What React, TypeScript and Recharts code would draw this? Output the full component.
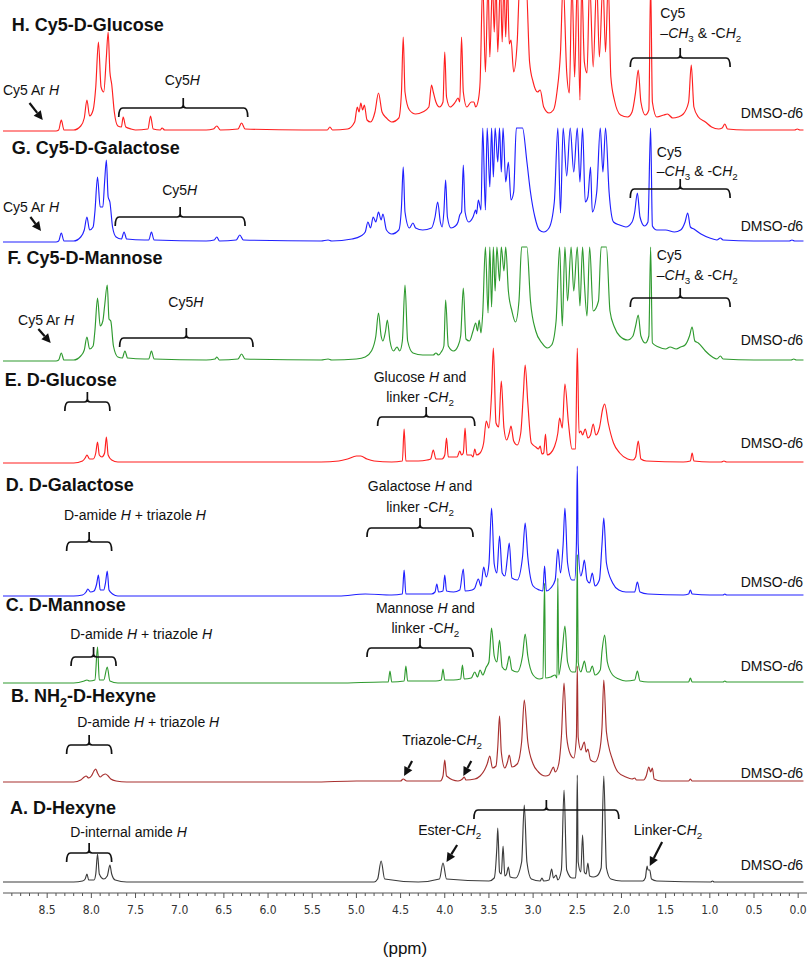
import React from "react";
import { LineChart, Line, XAxis, YAxis, ReferenceLine, ReferenceDot } from "recharts";

const SANS = "'Liberation Sans', Arial, Helvetica, sans-serif";
const RED = "#ff1f1f";
const BLUE = "#2020ff";
const GREEN = "#2f9a2f";
const MAROON = "#a8302f";
const GREY = "#3c3c3c";

// [ppm, intensity above the trace's own baseline]; H peaks at 150 run off the top of the frame
const H_TRACE: [number, number][] = [
  [9.0, 1], [8.4, 1], [8.37, 2], [8.34, 12], [8.31, 2], [8.2, 2], [8.12, 6], [8.08, 14], [8.05, 32], [8.02, 16],
  [7.98, 22], [7.95, 45], [7.92, 90], [7.89, 45], [7.86, 40], [7.83, 75], [7.81, 100], [7.79, 60], [7.77, 48],
  [7.74, 20], [7.7, 6], [7.66, 5], [7.64, 15], [7.61, 5], [7.55, 3], [7.5, 2], [7.36, 3], [7.33, 16], [7.3, 3],
  [7.22, 2], [7.2, 4], [7.17, 2], [6.7, 2], [6.62, 3], [6.58, 6], [6.54, 2], [6.34, 3], [6.3, 9], [6.26, 3],
  [5.6, 2], [5.33, 2], [5.3, 5], [5.27, 2], [5.1, 3], [5.02, 10], [4.99, 25], [4.97, 20], [4.95, 29], [4.93, 22],
  [4.91, 27], [4.88, 12], [4.84, 10], [4.79, 20], [4.75, 39], [4.71, 20], [4.66, 14], [4.6, 10], [4.52, 14],
  [4.49, 40], [4.47, 95], [4.45, 40], [4.4, 22], [4.33, 18], [4.25, 20], [4.18, 25], [4.15, 47], [4.13, 40],
  [4.1, 30], [4.06, 25], [4.02, 30], [4.0, 80], [3.98, 35], [3.94, 25], [3.88, 30], [3.85, 34], [3.83, 30],
  [3.81, 95], [3.79, 40], [3.75, 25], [3.7, 30], [3.67, 30], [3.65, 25], [3.62, 32], [3.6, 50], [3.57, 150],
  [3.54, 60], [3.51, 150], [3.49, 75], [3.46, 150], [3.44, 100], [3.42, 150], [3.4, 80], [3.37, 150], [3.35, 90],
  [3.33, 150], [3.31, 95], [3.29, 150], [3.27, 88], [3.25, 92], [3.22, 60], [3.18, 90], [3.15, 150], [3.08, 150],
  [3.04, 70], [3.0, 50], [2.95, 40], [2.92, 42], [2.88, 25], [2.82, 19], [2.77, 22], [2.73, 40], [2.69, 80],
  [2.66, 150], [2.62, 60], [2.59, 39], [2.56, 150], [2.53, 55], [2.5, 150], [2.47, 32], [2.45, 150], [2.42, 70],
  [2.39, 59], [2.36, 150], [2.32, 65], [2.28, 150], [2.25, 75], [2.21, 150], [2.18, 80], [2.15, 150], [2.12, 55],
  [2.08, 32], [2.01, 17], [1.93, 15], [1.88, 20], [1.84, 40], [1.81, 62], [1.78, 30], [1.73, 17], [1.69, 22],
  [1.67, 150], [1.65, 30], [1.6, 15], [1.52, 17], [1.48, 18], [1.42, 14], [1.36, 15], [1.3, 18], [1.24, 30],
  [1.21, 67], [1.18, 25], [1.13, 15], [1.05, 10], [0.98, 5], [0.9, 3], [0.86, 4], [0.83, 8], [0.8, 3], [0.6, 2],
  [0.3, 2], [0.04, 2], [0.01, 3], [-0.02, 2], [-0.06, 2],
];

const G_TRACE: [number, number][] = [
  [9.0, 0], [8.4, 0], [8.37, 1], [8.34, 9], [8.31, 1], [8.2, 1], [8.12, 5], [8.08, 12], [8.05, 25], [8.02, 12],
  [7.98, 15], [7.96, 30], [7.93, 65], [7.9, 35], [7.87, 35], [7.85, 60], [7.83, 82], [7.81, 45], [7.79, 40],
  [7.76, 15], [7.72, 5], [7.66, 3], [7.63, 10], [7.6, 3], [7.4, 2], [7.35, 2], [7.32, 10], [7.29, 2], [6.7, 1],
  [6.61, 2], [6.58, 5], [6.55, 1], [6.36, 2], [6.32, 7], [6.28, 2], [5.4, 1], [5.32, 2], [5.28, 1], [5.05, 3],
  [4.95, 6], [4.9, 10], [4.87, 20], [4.84, 14], [4.81, 25], [4.78, 20], [4.75, 30], [4.72, 22], [4.7, 28],
  [4.66, 12], [4.6, 8], [4.52, 12], [4.49, 35], [4.47, 75], [4.45, 30], [4.4, 14], [4.36, 19], [4.33, 14],
  [4.25, 12], [4.15, 14], [4.11, 25], [4.08, 40], [4.05, 20], [4.03, 15], [4.01, 30], [3.99, 62], [3.97, 25],
  [3.93, 14], [3.88, 16], [3.85, 20], [3.83, 27], [3.81, 30], [3.79, 77], [3.77, 30], [3.73, 20], [3.68, 25],
  [3.65, 32], [3.64, 28], [3.62, 42], [3.59, 32], [3.57, 114], [3.54, 32], [3.52, 114], [3.49, 55], [3.47, 114],
  [3.45, 65], [3.43, 114], [3.4, 80], [3.38, 114], [3.36, 70], [3.34, 114], [3.31, 60], [3.28, 80], [3.25, 42],
  [3.22, 50], [3.19, 114], [3.12, 114], [3.07, 80], [3.03, 50], [2.98, 25], [2.93, 12], [2.88, 10], [2.82, 14],
  [2.76, 40], [2.72, 114], [2.69, 29], [2.66, 114], [2.62, 66], [2.58, 114], [2.54, 70], [2.5, 114], [2.47, 60],
  [2.44, 114], [2.41, 40], [2.38, 45], [2.35, 75], [2.33, 30], [2.28, 50], [2.24, 114], [2.21, 70], [2.18, 114],
  [2.14, 50], [2.09, 20], [2.02, 17], [1.95, 15], [1.88, 20], [1.85, 30], [1.82, 49], [1.79, 25], [1.74, 16],
  [1.7, 20], [1.67, 114], [1.65, 16], [1.6, 12], [1.5, 12], [1.4, 10], [1.33, 12], [1.28, 20], [1.25, 29],
  [1.22, 15], [1.18, 13], [1.1, 8], [1.0, 4], [0.92, 2], [0.88, 4], [0.85, 2], [0.5, 1], [0.1, 1], [0.07, 2],
  [0.04, 1], [-0.06, 1],
];

const F_TRACE: [number, number][] = [
  [9.0, 0], [8.4, 0], [8.37, 1], [8.34, 8], [8.31, 1], [8.2, 1], [8.12, 5], [8.08, 11], [8.05, 24], [8.02, 12],
  [7.98, 15], [7.96, 30], [7.93, 63], [7.9, 35], [7.87, 40], [7.85, 55], [7.82, 76], [7.8, 42], [7.78, 40],
  [7.75, 15], [7.7, 4], [7.65, 3], [7.62, 10], [7.59, 3], [7.4, 2], [7.35, 2], [7.32, 10], [7.29, 2], [6.7, 1],
  [6.6, 2], [6.58, 4], [6.55, 1], [6.34, 2], [6.3, 7], [6.26, 2], [5.4, 1], [5.32, 2], [5.28, 1], [5.0, 2],
  [4.9, 4], [4.83, 10], [4.78, 25], [4.75, 48], [4.72, 25], [4.7, 20], [4.67, 30], [4.65, 41], [4.62, 20],
  [4.58, 10], [4.54, 14], [4.51, 10], [4.48, 20], [4.45, 76], [4.42, 20], [4.36, 8], [4.25, 6], [4.13, 6],
  [4.1, 8], [4.07, 6], [4.04, 9], [4.01, 15], [3.99, 61], [3.96, 15], [3.9, 10], [3.85, 15], [3.82, 25],
  [3.79, 73], [3.76, 22], [3.72, 20], [3.68, 30], [3.65, 38], [3.63, 30], [3.61, 41], [3.59, 28], [3.57, 48],
  [3.54, 114], [3.51, 48], [3.49, 114], [3.47, 54], [3.45, 114], [3.43, 70], [3.41, 114], [3.38, 80], [3.36, 114],
  [3.33, 90], [3.31, 114], [3.28, 70], [3.24, 50], [3.2, 39], [3.16, 60], [3.13, 114], [3.07, 114], [3.03, 60],
  [2.97, 30], [2.9, 18], [2.84, 13], [2.79, 16], [2.74, 40], [2.7, 114], [2.67, 35], [2.64, 114], [2.61, 60],
  [2.57, 114], [2.54, 70], [2.5, 114], [2.47, 55], [2.44, 114], [2.42, 79], [2.39, 45], [2.36, 114], [2.32, 50],
  [2.26, 60], [2.23, 114], [2.17, 114], [2.13, 50], [2.08, 34], [2.02, 25], [1.93, 21], [1.87, 25], [1.84, 35],
  [1.81, 46], [1.78, 25], [1.73, 18], [1.69, 25], [1.67, 114], [1.65, 18], [1.58, 14], [1.5, 12], [1.45, 14],
  [1.38, 12], [1.33, 14], [1.28, 16], [1.23, 25], [1.2, 34], [1.17, 20], [1.13, 18], [1.05, 10], [0.97, 4],
  [0.92, 2], [0.88, 5], [0.85, 2], [0.5, 1], [0.08, 1], [0.05, 2], [0.02, 1], [-0.06, 1],
];

const E_TRACE: [number, number][] = [
  [9.0, 0], [8.2, 0], [8.1, 2], [8.07, 5], [8.05, 8], [8.02, 4], [7.98, 4], [7.95, 10], [7.93, 21], [7.91, 8],
  [7.88, 6], [7.85, 10], [7.83, 26], [7.81, 8], [7.77, 3], [7.7, 1], [5.4, 1], [5.2, 2], [5.1, 4], [5.0, 7],
  [4.95, 7], [4.88, 4], [4.8, 2], [4.6, 1], [4.48, 2], [4.46, 34], [4.44, 2], [4.3, 2], [4.2, 3], [4.16, 4],
  [4.13, 13], [4.1, 4], [4.03, 4], [4.0, 8], [3.98, 25], [3.96, 6], [3.86, 6], [3.83, 12], [3.81, 8], [3.79, 10],
  [3.77, 35], [3.75, 8], [3.7, 8], [3.68, 6], [3.66, 14], [3.64, 8], [3.6, 10], [3.56, 20], [3.53, 42], [3.5, 35],
  [3.47, 70], [3.45, 115], [3.42, 40], [3.39, 36], [3.36, 82], [3.33, 35], [3.3, 23], [3.27, 30], [3.25, 37],
  [3.22, 22], [3.18, 18], [3.14, 30], [3.11, 70], [3.09, 98], [3.06, 60], [3.02, 20], [2.97, 16], [2.94, 14],
  [2.92, 17], [2.9, 9], [2.88, 10], [2.86, 29], [2.84, 8], [2.8, 10], [2.76, 16], [2.72, 30], [2.7, 45],
  [2.67, 35], [2.64, 79], [2.6, 40], [2.56, 14], [2.52, 14], [2.5, 115], [2.48, 30], [2.46, 32], [2.44, 28],
  [2.41, 34], [2.38, 25], [2.35, 28], [2.32, 39], [2.29, 28], [2.25, 35], [2.21, 55], [2.19, 59], [2.15, 40],
  [2.09, 20], [2.02, 10], [1.93, 4], [1.87, 3], [1.84, 6], [1.81, 22], [1.78, 4], [1.72, 2], [1.3, 1], [1.22, 2],
  [1.2, 10], [1.18, 2], [1.0, 1], [0.87, 1], [0.84, 2], [0.81, 1], [-0.06, 1],
];

const D_TRACE: [number, number][] = [
  [9.0, 0], [8.2, 0], [8.1, 1], [8.06, 4], [8.04, 7], [8.01, 4], [7.97, 5], [7.94, 12], [7.92, 21], [7.9, 6],
  [7.86, 6], [7.84, 13], [7.82, 25], [7.8, 6], [7.76, 2], [7.7, 0], [5.2, 0], [4.9, 2], [4.6, 1], [4.48, 2],
  [4.46, 26], [4.44, 2], [4.15, 2], [4.11, 4], [4.09, 12], [4.07, 4], [4.02, 5], [4.0, 21], [3.98, 5], [3.9, 4],
  [3.83, 6], [3.79, 27], [3.77, 5], [3.69, 6], [3.66, 8], [3.62, 17], [3.59, 10], [3.56, 29], [3.53, 19],
  [3.5, 32], [3.47, 88], [3.44, 32], [3.41, 23], [3.38, 60], [3.35, 23], [3.32, 20], [3.29, 39], [3.27, 53],
  [3.24, 18], [3.18, 16], [3.12, 39], [3.09, 73], [3.06, 39], [3.0, 10], [2.93, 6], [2.89, 5], [2.87, 30],
  [2.85, 5], [2.8, 8], [2.75, 16], [2.72, 47], [2.69, 23], [2.66, 52], [2.64, 88], [2.61, 33], [2.56, 16],
  [2.53, 16], [2.51, 52], [2.5, 130], [2.49, 52], [2.46, 20], [2.44, 26], [2.42, 36], [2.39, 16], [2.36, 13],
  [2.33, 23], [2.3, 10], [2.25, 16], [2.22, 52], [2.2, 78], [2.17, 33], [2.1, 13], [2.03, 6], [1.95, 4],
  [1.85, 4], [1.82, 14], [1.79, 4], [1.7, 2], [1.3, 1], [1.24, 2], [1.22, 6], [1.2, 2], [1.0, 1], [0.85, 1],
  [0.83, 2], [0.81, 1], [-0.06, 1],
];

const C_TRACE: [number, number][] = [
  [9.0, 0], [8.2, 0], [8.08, 2], [8.05, 3], [8.02, 2], [7.96, 3], [7.93, 36], [7.91, 3], [7.86, 3], [7.82, 16],
  [7.79, 2], [7.7, 0], [5.2, 0], [4.7, 1], [4.64, 1], [4.62, 12], [4.6, 1], [4.46, 2], [4.44, 17], [4.42, 2],
  [4.1, 2], [4.04, 3], [4.02, 14], [4.0, 3], [3.9, 3], [3.82, 4], [3.8, 18], [3.78, 4], [3.7, 5], [3.66, 11],
  [3.63, 6], [3.6, 13], [3.57, 8], [3.53, 16], [3.5, 21], [3.47, 55], [3.44, 27], [3.41, 21], [3.38, 43],
  [3.35, 16], [3.31, 13], [3.29, 19], [3.27, 27], [3.24, 13], [3.18, 11], [3.12, 27], [3.09, 49], [3.06, 27],
  [3.0, 8], [2.93, 4], [2.89, 5], [2.87, 100], [2.86, 5], [2.8, 6], [2.75, 8], [2.73, 5], [2.72, 105], [2.71, 8],
  [2.67, 32], [2.64, 57], [2.61, 21], [2.56, 11], [2.52, 11], [2.51, 21], [2.5, 128], [2.49, 21], [2.46, 11],
  [2.44, 16], [2.42, 22], [2.39, 11], [2.36, 11], [2.33, 17], [2.3, 8], [2.24, 13], [2.22, 32], [2.19, 48],
  [2.16, 21], [2.1, 8], [2.03, 4], [1.95, 2], [1.85, 3], [1.82, 12], [1.79, 2], [1.7, 1], [1.3, 1], [1.24, 1],
  [1.22, 5], [1.2, 1], [1.0, 1], [0.85, 1], [0.83, 2], [0.81, 1], [-0.06, 1],
];

const B_TRACE: [number, number][] = [
  [9.0, 0], [8.2, 0], [8.12, 2], [8.08, 5], [8.06, 6], [8.03, 4], [8.0, 6], [7.97, 11], [7.95, 13], [7.93, 9],
  [7.9, 5], [7.87, 7], [7.84, 8], [7.81, 6], [7.78, 3], [7.72, 1], [7.6, 0], [5.5, 0], [5.0, 1], [4.5, 1],
  [4.47, 3], [4.43, 1], [4.05, 1], [4.02, 6], [4.0, 22], [3.98, 6], [3.85, 1], [3.8, 3], [3.78, 5], [3.76, 2],
  [3.66, 3], [3.6, 6], [3.55, 12], [3.52, 18], [3.49, 26], [3.46, 14], [3.42, 16], [3.4, 35], [3.38, 66],
  [3.36, 30], [3.32, 14], [3.29, 20], [3.27, 27], [3.24, 15], [3.18, 18], [3.13, 40], [3.1, 82], [3.06, 40],
  [3.0, 18], [2.94, 10], [2.9, 7], [2.86, 6], [2.82, 7], [2.79, 12], [2.77, 15], [2.75, 10], [2.71, 18],
  [2.68, 45], [2.65, 99], [2.62, 45], [2.58, 28], [2.54, 24], [2.51, 45], [2.5, 116], [2.49, 45], [2.46, 32],
  [2.42, 40], [2.4, 30], [2.38, 33], [2.35, 22], [2.3, 20], [2.25, 30], [2.22, 55], [2.2, 102], [2.17, 50],
  [2.1, 22], [2.04, 10], [1.95, 5], [1.88, 3], [1.85, 4], [1.83, 2], [1.75, 2], [1.72, 6], [1.69, 15],
  [1.67, 10], [1.65, 14], [1.63, 3], [1.55, 1], [1.3, 1], [1.24, 1], [1.22, 3], [1.2, 1], [1.0, 1], [-0.06, 1],
];

const A_TRACE: [number, number][] = [
  [9.0, 0], [8.2, 0], [8.1, 1], [8.07, 3], [8.05, 8], [8.03, 2], [7.97, 2], [7.95, 8], [7.93, 28], [7.91, 8],
  [7.86, 3], [7.82, 6], [7.79, 17], [7.77, 8], [7.73, 2], [7.6, 0], [4.8, 0], [4.76, 3], [4.72, 21], [4.68, 3],
  [4.3, 0], [4.06, 3], [4.02, 19], [3.98, 3], [3.5, 1], [3.44, 4], [3.41, 35], [3.4, 54], [3.38, 10], [3.36, 8],
  [3.34, 36], [3.32, 6], [3.3, 8], [3.28, 15], [3.26, 5], [3.2, 4], [3.13, 20], [3.1, 77], [3.07, 20], [3.02, 3],
  [2.92, 1], [2.9, 4], [2.88, 1], [2.82, 2], [2.79, 13], [2.77, 4], [2.74, 7], [2.72, 2], [2.68, 12], [2.65, 92],
  [2.62, 12], [2.56, 4], [2.52, 4], [2.51, 20], [2.5, 107], [2.49, 20], [2.46, 10], [2.44, 47], [2.42, 10],
  [2.4, 8], [2.38, 19], [2.36, 6], [2.32, 5], [2.28, 6], [2.23, 14], [2.2, 106], [2.17, 14], [2.12, 3],
  [2.0, 1], [1.76, 1], [1.73, 4], [1.71, 16], [1.7, 12], [1.68, 12], [1.66, 3], [1.6, 1], [0.99, 0], [0.97, 1],
  [0.95, 0], [-0.06, 0],
];

const TRACES = [H_TRACE, G_TRACE, F_TRACE, E_TRACE, D_TRACE, C_TRACE, B_TRACE, A_TRACE];
const TRACE_COLORS = [RED, BLUE, GREEN, RED, BLUE, GREEN, MAROON, GREY];
// vertical stacking offset of each trace's baseline (same units as intensity)
const TRACE_OFFSETS = [761, 651, 532, 430, 297, 210, 111, 11];

const X_DOMAIN: [number, number] = [-0.1, 9.0];
const Y_DOMAIN: [number, number] = [0, 893];
const MAJOR_TICKS = [8.5, 8.0, 7.5, 7.0, 6.5, 6.0, 5.5, 5.0, 4.5, 4.0, 3.5, 3.0, 2.5, 2.0, 1.5, 1.0, 0.5, 0.0];
const ALL_TICKS = Array.from({ length: 90 }, (_, i) => i / 10);

type Seg = [string, string?];
type Note = { x: number; y: number; segs: Seg[]; anchor?: "start" | "middle" | "end"; size?: number; bold?: boolean };

const sub = (s: string): Seg => [s, "s"];
const it = (s: string): Seg => [s, "i"];
const DMSO: Seg[] = [["DMSO-"], it("d"), ["6"]];
const CH3CH2: Seg[] = [["–"], it("CH"), sub("3"), [" & -C"], it("H"), sub("2")];
const AMIDE: Seg[] = [["D-amide "], it("H"), [" + triazole "], it("H")];
const LINKER: Seg[] = [["linker -C"], it("H"), sub("2")];

const NOTES: Note[] = [
  { x: 8.9, y: 862, bold: true, size: 18, segs: [["H. Cy5-D-Glucose"]] },
  { x: 8.9, y: 739, bold: true, size: 18, segs: [["G. Cy5-D-Galactose"]] },
  { x: 8.95, y: 629, bold: true, size: 18, segs: [["F. Cy5-D-Mannose"]] },
  { x: 8.98, y: 507, bold: true, size: 18, segs: [["E. D-Glucose"]] },
  { x: 8.97, y: 402, bold: true, size: 18, segs: [["D. D-Galactose"]] },
  { x: 8.97, y: 282, bold: true, size: 18, segs: [["C. D-Mannose"]] },
  { x: 8.91, y: 191, bold: true, size: 18, segs: [["B. NH"], sub("2"), ["-D-Hexyne"]] },
  { x: 8.92, y: 79, bold: true, size: 18, segs: [["A. D-Hexyne"]] },

  { x: 9.0, y: 798, segs: [["Cy5 Ar "], it("H")] },
  { x: 6.97, y: 808, anchor: "middle", segs: [["Cy5"], it("H")] },
  { x: 1.56, y: 875, segs: [["Cy5"]] },
  { x: 1.56, y: 855, segs: CH3CH2 },
  { x: -0.055, y: 775, anchor: "end", segs: DMSO },

  { x: 9.0, y: 681, segs: [["Cy5 Ar "], it("H")] },
  { x: 7.0, y: 698, anchor: "middle", segs: [["Cy5"], it("H")] },
  { x: 1.6, y: 736, segs: [["Cy5"]] },
  { x: 1.6, y: 717, segs: CH3CH2 },
  { x: -0.055, y: 662, anchor: "end", segs: DMSO },

  { x: 8.83, y: 568, segs: [["Cy5 Ar "], it("H")] },
  { x: 6.93, y: 586, anchor: "middle", segs: [["Cy5"], it("H")] },
  { x: 1.6, y: 633, segs: [["Cy5"]] },
  { x: 1.6, y: 613, segs: CH3CH2 },
  { x: -0.055, y: 548, anchor: "end", segs: DMSO },

  { x: 4.28, y: 511, anchor: "middle", segs: [["Glucose "], it("H"), [" and"]] },
  { x: 4.28, y: 491, anchor: "middle", segs: LINKER },
  { x: -0.055, y: 445, anchor: "end", segs: DMSO },

  { x: 8.31, y: 373, segs: AMIDE },
  { x: 4.28, y: 402, anchor: "middle", segs: [["Galactose "], it("H"), [" and"]] },
  { x: 4.28, y: 381, anchor: "middle", segs: LINKER },
  { x: -0.055, y: 306, anchor: "end", segs: DMSO },

  { x: 8.24, y: 254, segs: AMIDE },
  { x: 4.22, y: 280, anchor: "middle", segs: [["Mannose "], it("H"), [" and"]] },
  { x: 4.22, y: 260, anchor: "middle", segs: LINKER },
  { x: -0.055, y: 222, anchor: "end", segs: DMSO },

  { x: 8.16, y: 166, segs: AMIDE },
  { x: 4.48, y: 148, segs: [["Triazole-C"], it("H"), sub("2")] },
  { x: -0.055, y: 115, anchor: "end", segs: DMSO },

  { x: 8.24, y: 56, segs: [["D-internal amide "], it("H")] },
  { x: 4.3, y: 58, segs: [["Ester-C"], it("H"), sub("2")] },
  { x: 1.86, y: 58, segs: [["Linker-C"], it("H"), sub("2")] },
  { x: -0.055, y: 23, anchor: "end", segs: DMSO },
];

// [ppm start, ppm end, level]
const BRACKETS: [number, number, number][] = [
  [7.69, 6.23, 785], [1.9, 0.77, 835],
  [7.73, 6.26, 676], [1.9, 0.77, 704],
  [7.68, 6.17, 555], [1.9, 0.77, 595],
  [8.3, 7.79, 491], [4.76, 3.66, 476],
  [8.28, 7.77, 351], [4.88, 3.68, 365],
  [8.23, 7.72, 236], [4.88, 3.68, 245],
  [8.28, 7.77, 148],
  [8.28, 7.77, 40], [3.67, 2.03, 83],
];

// [tail ppm, tail level, tip ppm, tip level]
const ARROWS: [number, number, number, number][] = [
  [8.7, 790, 8.55, 773],
  [8.69, 676, 8.57, 662],
  [8.6, 564, 8.46, 550],
  [4.37, 132, 4.46, 117],
  [3.7, 132, 3.79, 117],
  [3.86, 48, 3.98, 31],
  [1.54, 51, 1.68, 27],
];

function RichText({ cx, cy, note }: { cx: number; cy: number; note: Note }) {
  const size = note.size ?? 14;
  let shift = 0;
  return (
    <text
      x={cx}
      y={cy}
      textAnchor={note.anchor ?? "start"}
      fontFamily={SANS}
      fontSize={size}
      fontWeight={note.bold ? 700 : 400}
      fill="#111"
    >
      {note.segs.map(([t, f], i) => {
        const isSub = f === "s";
        const target = isSub ? size * 0.28 : 0;
        const dy = target - shift;
        shift = target;
        return (
          <tspan
            key={i}
            dy={dy}
            fontStyle={f === "i" ? "italic" : undefined}
            fontSize={isSub ? size * 0.7 : undefined}
          >
            {t}
          </tspan>
        );
      })}
    </text>
  );
}

function bracketShape(p: any) {
  const left = Math.min(p.x1, p.x2);
  const right = Math.max(p.x1, p.x2);
  const y = p.y1;
  const mid = (left + right) / 2;
  const drop = 9;
  const rise = 10;
  const d = [
    `M${left},${y + drop}`,
    `Q${left},${y} ${left + 4},${y}`,
    `L${mid - 3},${y}`,
    `Q${mid},${y} ${mid},${y - 3}`,
    `L${mid},${y - rise}`,
    `M${mid},${y - 3}`,
    `Q${mid},${y} ${mid + 3},${y}`,
    `L${right - 4},${y}`,
    `Q${right},${y} ${right},${y + drop}`,
  ].join(" ");
  return <path d={d} fill="none" stroke="#111" strokeWidth={1.7} />;
}

function arrowShape(p: any) {
  const { x1, y1, x2, y2 } = p;
  const len = Math.hypot(x2 - x1, y2 - y1) || 1;
  const ux = (x2 - x1) / len;
  const uy = (y2 - y1) / len;
  const head = 9;
  const half = 4.5;
  const bx = x2 - ux * head;
  const by = y2 - uy * head;
  const pts = `${x2},${y2} ${bx - uy * half},${by + ux * half} ${bx + uy * half},${by - ux * half}`;
  return (
    <g>
      <line x1={x1} y1={y1} x2={bx} y2={by} stroke="#111" strokeWidth={2.2} />
      <polygon points={pts} fill="#111" />
    </g>
  );
}

function PpmTick(props: any) {
  const { x, y, payload } = props;
  const v = payload.value as number;
  const major = MAJOR_TICKS.some((m) => Math.abs(m - v) < 1e-6);
  return (
    <g>
      <line x1={x} x2={x} y1={y} y2={y + (major ? 5 : 3)} stroke="#555" strokeWidth={1} />
      {major && (
        <text
          x={x}
          y={y + 21}
          textAnchor="middle"
          fontFamily="'DejaVu Sans Condensed', 'DejaVu Sans', sans-serif"
          fontSize={12}
          fill="#333"
        >
          {v.toFixed(1)}
        </text>
      )}
    </g>
  );
}

export default function App() {
  const series = TRACES.map((trace, i) =>
    trace.map(([ppm, h]) => ({ x: ppm, y: h + TRACE_OFFSETS[i] }))
  );

  return (
    <div style={{ position: "absolute", left: 0, top: 0, width: 811, height: 960, background: "#fff" }}>
      <LineChart width={811} height={960} margin={{ top: 0, right: 4, bottom: 0, left: 3 }}>
        <XAxis
          type="number"
          dataKey="x"
          domain={X_DOMAIN}
          allowDataOverflow
          reversed
          ticks={ALL_TICKS}
          interval={0}
          tickLine={false}
          tickSize={0}
          tickMargin={0}
          tick={<PpmTick />}
          height={67}
          stroke="#555"
          label={{
            value: "(ppm)",
            position: "insideBottom",
            offset: 6,
            fontSize: 17,
            fontFamily: SANS,
            fill: "#111",
          }}
        />
        <YAxis type="number" domain={Y_DOMAIN} allowDataOverflow hide />
        {series.map((data, i) => (
          <Line
            key={i}
            data={data}
            dataKey="y"
            type="monotoneX"
            stroke={TRACE_COLORS[i]}
            strokeWidth={1.15}
            dot={false}
            activeDot={false}
            isAnimationActive={false}
          />
        ))}
        {BRACKETS.map(([a, b, lv], i) => (
          <ReferenceLine
            key={`br${i}`}
            segment={[{ x: a, y: lv }, { x: b, y: lv }]}
            ifOverflow="visible"
            shape={bracketShape}
          />
        ))}
        {ARROWS.map(([ax, ay, bx, by], i) => (
          <ReferenceLine
            key={`ar${i}`}
            segment={[{ x: ax, y: ay }, { x: bx, y: by }]}
            ifOverflow="visible"
            shape={arrowShape}
          />
        ))}
        {NOTES.map((n, i) => (
          <ReferenceDot
            key={`nt${i}`}
            x={n.x}
            y={n.y}
            r={0}
            ifOverflow="visible"
            shape={(p: any) => <RichText cx={p.cx} cy={p.cy} note={n} />}
          />
        ))}
      </LineChart>
    </div>
  );
}
